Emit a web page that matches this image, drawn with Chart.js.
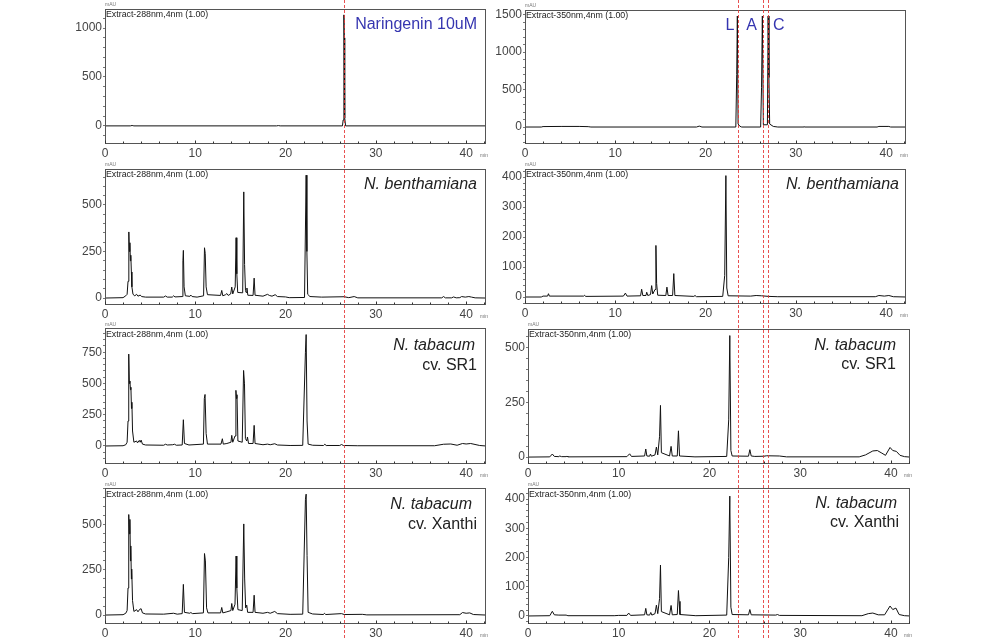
<!DOCTYPE html>
<html><head><meta charset="utf-8">
<script src="https://cdn.jsdelivr.net/npm/chart.js@4.4.1/dist/chart.umd.min.js"></script>
<style>
html,body{margin:0;padding:0;background:#fff;width:1003px;height:640px;overflow:hidden;position:relative}
canvas{position:absolute;display:block}
</style></head><body>
<script>
// ---- data: [retention time (min), absorbance (mAU)] ----
const naringenin288 = [[0,0],[2.8,0],[3.0,4],[3.2,0],[19.0,0],[19.2,3],[19.4,0],[26.3,0],[26.38,60],[26.46,1135],[26.5,900],[26.55,80],[26.65,0],[42.2,0]];
const standards350 = [[0,0],[1.8,0],[2.0,6],[4,8],[6,8],[7.0,5],[7.3,0],[19.0,0],[19.3,12],[19.6,0],[23.35,0],[23.45,700],[23.52,1480],[23.6,40],[23.8,10],[24,0],[26.1,0],[26.2,530],[26.29,1480],[26.4,30],[26.85,30],[26.93,1480],[27.02,660],[27.1,40],[27.5,8],[28,0],[30.8,0],[30.9,4],[31.0,0],[39.0,0],[39.2,8],[40.3,8],[40.5,0],[42.2,0]];
const benth288 = [[0,0],[2.0,2],[2.3,12],[2.45,20],[2.55,90],[2.64,355],[2.7,250],[2.76,297],[2.81,200],[2.86,230],[2.92,140],[2.98,60],[3.1,20],[3.3,12],[3.5,20],[3.65,10],[3.9,16],[4.05,8],[4.5,5],[6.5,5],[6.7,11],[6.9,5],[7.45,5],[7.6,12],[7.75,6],[8.55,8],[8.63,200],[8.68,256],[8.76,60],[8.9,12],[9.4,9],[9.5,16],[9.65,8],[10.2,5],[10.92,12],[11.02,270],[11.1,240],[11.2,60],[11.35,18],[12.8,14],[12.93,41],[13.05,12],[13.35,18],[13.5,24],[13.65,14],[13.92,22],[14.04,59],[14.15,22],[14.42,60],[14.52,324],[14.6,130],[14.7,30],[15.25,28],[15.37,570],[15.46,180],[15.56,40],[15.63,30],[15.72,54],[15.82,15],[16.4,14],[16.52,107],[16.62,15],[17.5,10],[18.0,20],[18.2,14],[18.5,10],[18.85,18],[19.1,8],[20.0,6],[20.4,2],[22.1,3],[22.28,660],[22.36,250],[22.45,20],[22.7,8],[24.0,5],[26.5,7],[27.0,2],[27.6,8],[28.0,1],[37.3,1],[37.5,8],[37.7,1],[38.4,1],[38.6,6],[38.9,1],[39.3,2],[39.5,8],[39.9,5],[40.3,8],[40.6,5],[41,1],[42.2,0]];
const benth350 = [[0,0],[1.8,0],[2.0,3],[2.5,3],[2.6,11],[2.7,3],[6.5,3],[6.6,6],[6.7,2],[10.9,3],[11.12,13],[11.3,3],[12.8,4],[12.92,26],[13.05,5],[13.4,5],[13.48,16],[13.6,5],[13.9,8],[14.03,38],[14.15,10],[14.4,25],[14.5,172],[14.58,45],[14.7,6],[15.6,5],[15.72,33],[15.85,5],[16.35,5],[16.48,78],[16.6,5],[18.7,2],[18.83,5],[19.0,1],[21.9,2],[22.12,72],[22.25,405],[22.35,30],[22.5,4],[25,3],[25.6,5],[26.2,4],[27,2],[28,1],[38.8,1],[39.2,5],[39.8,3],[40.3,5],[40.8,1],[42.2,0]];
const sr1_288 = [[0,0],[2.0,2],[2.3,10],[2.45,30],[2.55,200],[2.63,735],[2.7,500],[2.76,520],[2.82,450],[2.87,470],[2.93,300],[2.98,350],[3.05,120],[3.2,30],[3.5,40],[3.6,25],[3.8,45],[3.9,30],[4.0,47],[4.15,15],[4.5,8],[6.5,6],[6.7,14],[6.9,8],[7.5,10],[7.7,14],[7.9,6],[8.55,8],[8.68,210],[8.8,20],[9.3,8],[10.9,15],[11.0,380],[11.08,412],[11.2,100],[11.35,15],[12.85,15],[13.0,58],[13.1,15],[13.5,20],[13.95,30],[14.04,85],[14.15,30],[14.4,80],[14.5,445],[14.56,380],[14.62,410],[14.72,40],[15.2,30],[15.35,604],[15.45,497],[15.55,60],[15.7,40],[15.78,72],[15.9,20],[16.4,20],[16.52,165],[16.62,20],[17.5,10],[18.0,15],[18.3,10],[18.8,18],[19.1,8],[20.5,4],[21.9,5],[22.2,750],[22.28,891],[22.38,200],[22.5,15],[23,6],[24.2,4],[24.35,14],[24.5,4],[26.0,4],[26.2,12],[26.4,4],[28,2],[36.5,2],[37.5,14],[38.3,16],[39,6],[39.6,20],[40.0,16],[40.5,20],[41.5,4],[42.2,0]];
const sr1_350 = [[0,0],[2.4,1],[2.68,14],[2.9,3],[3.4,2],[3.5,5],[3.7,2],[4.2,2],[4.3,4],[4.4,1],[10.9,2],[11.2,15],[11.4,3],[12.85,5],[12.98,37],[13.1,5],[13.4,4],[13.5,14],[13.6,4],[14.0,10],[14.15,46],[14.3,10],[14.5,95],[14.6,236],[14.7,20],[15.6,5],[15.77,49],[15.9,5],[16.45,5],[16.58,120],[16.7,5],[18.4,1],[21.9,3],[22.12,170],[22.24,555],[22.36,30],[22.5,5],[24.3,4],[24.45,34],[24.6,5],[25,3],[26.0,4],[26.3,6],[27.7,5],[28.5,1],[36.5,1],[37.2,10],[38.0,28],[38.5,30],[39.0,18],[39.4,8],[39.9,44],[40.2,30],[40.6,26],[41.0,8],[41.5,2],[42.1,0]];
const xanthi288 = [[0,0],[2.0,2],[2.3,10],[2.45,25],[2.55,150],[2.63,557],[2.7,450],[2.76,530],[2.82,300],[2.86,383],[2.92,200],[2.96,255],[3.05,80],[3.2,20],[3.5,30],[3.65,18],[3.85,32],[4.0,35],[4.15,12],[4.5,6],[6.5,5],[7.6,10],[8.0,5],[8.55,8],[8.68,170],[8.8,15],[9.4,10],[9.5,14],[9.7,8],[10.9,12],[11.02,341],[11.12,300],[11.25,40],[11.4,12],[12.8,12],[12.93,42],[13.05,12],[13.5,18],[13.95,25],[14.04,64],[14.15,25],[14.4,60],[14.52,327],[14.6,150],[14.72,30],[15.2,25],[15.37,505],[15.47,200],[15.58,40],[15.7,55],[15.8,15],[16.4,15],[16.52,110],[16.62,15],[17.5,10],[18.0,15],[18.3,10],[18.8,20],[19.1,8],[20.5,4],[21.9,5],[22.2,640],[22.28,670],[22.38,330],[22.5,15],[23,6],[24.2,3],[24.3,10],[24.45,3],[26.2,8],[26.5,3],[28.5,4],[29,1],[39.3,2],[39.6,14],[40.0,10],[40.4,12],[40.8,3],[42.2,0]];
const xanthi350 = [[0,0],[2.4,1],[2.68,16],[2.9,4],[3.4,3],[4.2,3],[4.4,1],[9.5,1],[10,2],[10.9,2],[11.1,10],[11.3,2],[12.85,4],[12.98,26],[13.1,4],[13.4,3],[13.53,12],[13.65,3],[14.0,8],[14.15,37],[14.3,8],[14.5,60],[14.6,174],[14.7,15],[15.6,4],[15.77,36],[15.9,4],[16.45,5],[16.58,87],[16.65,50],[16.75,5],[18.5,1],[21.9,3],[22.12,200],[22.24,410],[22.36,30],[22.5,5],[24.3,4],[24.45,22],[24.6,4],[27.3,3],[27.5,5],[27.7,2],[36.8,1],[37.5,8],[38.0,10],[38.6,4],[39.3,4],[39.9,34],[40.2,22],[40.55,27],[40.9,5],[41.5,1],[42.1,0]];

const xTickLabels = [0, 10, 20, 30, 40];
const naringeninRT = [26.5];                 // guide line, left column
const standardRT = [23.56, 26.33, 26.92];    // guide lines L, A, C, right column
const standardNames = ['L', 'A', 'C'];
const standardLabelAt = [22.7, 25.1, 28.1];

// ---- layout ----
const FONT = '"Liberation Sans", Arial, sans-serif';
const cols = [{left:0, width:492}, {left:478, width:525}];
const ROWH = 160;
const panels = [
 {data:naringenin288, wl:288, col:0, row:0, yMin:-175, yMax:1195, yStep:100, yMajor:500, top:9, bottom:143, left:105, right:486, xMax:42.2,
  texts:[{t:'Naringenin 10uM', color:'#3535b0', dy:16, dx:-9}], guides:naringeninRT},
 {data:standards350, wl:350, col:1, row:0, yMin:-213, yMax:1560, yStep:100, yMajor:500, top:10, bottom:143, left:47, right:428, xMax:42.2,
  texts:[], guides:standardRT, letters:true},
 {data:benth288, wl:288, col:0, row:1, yMin:-32, yMax:693, yStep:50, yMajor:250, top:9, bottom:144, left:105, right:486, xMax:42.2,
  texts:[{t:'N. benthamiana', it:true, dy:16, dx:-9}]},
 {data:benth350, wl:350, col:1, row:1, yMin:-20, yMax:427, yStep:20, yMajor:100, top:9, bottom:143, left:47, right:428, xMax:42.2,
  texts:[{t:'N. benthamiana', it:true, dy:16, dx:-7}]},
 {data:sr1_288, wl:288, col:0, row:2, yMin:-136, yMax:942, yStep:50, yMajor:250, top:8, bottom:143, left:105, right:486, xMax:42.2,
  texts:[{t:'N. tabacum', it:true, dy:17, dx:-11}, {t:'cv. SR1', dy:37, dx:-9}]},
 {data:sr1_350, wl:350, col:1, row:2, yMin:-27, yMax:585, yStep:50, yMajor:250, top:9, bottom:143, left:50, right:432, xMax:42.1,
  texts:[{t:'N. tabacum', it:true, dy:17, dx:-14}, {t:'cv. SR1', dy:36, dx:-14}]},
 {data:xanthi288, wl:288, col:0, row:3, yMin:-44, yMax:703, yStep:50, yMajor:250, top:7, bottom:143, left:105, right:486, xMax:42.2,
  texts:[{t:'N. tabacum', it:true, dy:16, dx:-14}, {t:'cv. Xanthi', dy:36, dx:-9}]},
 {data:xanthi350, wl:350, col:1, row:3, yMin:-24, yMax:437, yStep:20, yMajor:100, top:8, bottom:143, left:50, right:432, xMax:42.1,
  texts:[{t:'N. tabacum', it:true, dy:15, dx:-13}, {t:'cv. Xanthi', dy:34, dx:-11}]}
];

// overlay for the dashed guide lines that run through every panel of a column
const overlay = document.createElement('canvas');
overlay.width = 1003; overlay.height = 640;
overlay.style.left = '0px'; overlay.style.top = '0px'; overlay.style.zIndex = 10; overlay.style.pointerEvents = 'none';
const octx = overlay.getContext('2d');

function deco(p, col) {
  return {
    id: 'deco',
    afterDatasetsDraw(chart) {
      const ctx = chart.ctx, a = chart.chartArea;
      ctx.save();
      // frame
      ctx.strokeStyle = '#555'; ctx.lineWidth = 1;
      const L = Math.round(a.left) + 0.5, T = Math.round(a.top) + 0.5, B = Math.round(a.bottom) + 0.5;
      ctx.strokeRect(L, T, Math.round(a.right - a.left) - 1, Math.round(a.bottom - a.top));
      // inward x ticks from the scale's ticks
      ctx.strokeStyle = '#333';
      chart.scales.x.ticks.forEach(tk => {
        const x = Math.round(chart.scales.x.getPixelForValue(tk.value)) + 0.5;
        const len = (tk.value % 10 === 0) ? 3 : 2;
        ctx.beginPath(); ctx.moveTo(x, B); ctx.lineTo(x, B - len); ctx.stroke();
      });
      // small instrument texts
      ctx.fillStyle = '#222';
      ctx.textBaseline = 'middle'; ctx.textAlign = 'left';
      ctx.font = '8.8px ' + FONT;
      ctx.fillText('Extract-' + p.wl + 'nm,4nm (1.00)', a.left + 1, a.top + 6);
      ctx.font = '5px ' + FONT; ctx.fillStyle = '#777';
      ctx.fillText('mAU', a.left, a.top - 4);
      ctx.fillText('min', a.right - 6, a.bottom + 13);
      // panel labels
      ctx.textAlign = 'right';
      p.texts.forEach(s => {
        ctx.font = (s.it ? 'italic ' : '') + '16px ' + FONT;
        ctx.fillStyle = s.color || '#222';
        ctx.fillText(s.t, a.right + s.dx, a.top + s.dy);
      });
      if (p.letters) {
        ctx.textAlign = 'center'; ctx.font = '16px ' + FONT; ctx.fillStyle = '#3535b0';
        standardNames.forEach((n, i) => ctx.fillText(n, chart.scales.x.getPixelForValue(standardLabelAt[i]), a.top + 16));
      }
      ctx.restore();
      // guides
      if (p.guides) {
        octx.save();
        octx.strokeStyle = 'rgba(228,50,50,0.85)'; octx.lineWidth = 1; octx.setLineDash([3, 2]);
        p.guides.forEach(v => {
          const x = Math.round(chart.scales.x.getPixelForValue(v) + col.left) + 0.5;
          octx.beginPath(); octx.moveTo(x, 0); octx.lineTo(x, 640); octx.stroke();
        });
        octx.restore();
      }
    }
  };
}

panels.forEach(p => {
  const col = cols[p.col];
  const cv = document.createElement('canvas');
  cv.width = col.width; cv.height = ROWH;
  cv.style.left = col.left + 'px'; cv.style.top = (p.row * ROWH) + 'px';
  cv.style.width = col.width + 'px'; cv.style.height = ROWH + 'px';
  document.body.appendChild(cv);
  new Chart(cv, {
    type: 'line',
    data: {datasets: [{data: p.data.map(([x, y]) => ({x, y})), borderColor: '#111', borderWidth: 1, pointRadius: 0, tension: 0, fill: false}]},
    options: {
      responsive: false, animation: false, devicePixelRatio: 1,
      layout: {padding: {left: 0, top: p.top, right: col.width - p.right, bottom: 0}},
      plugins: {legend: {display: false}, tooltip: {enabled: false}},
      scales: {
        x: {type: 'linear', min: 0, max: p.xMax,
            afterFit: s => { s.height = ROWH - p.bottom; },
            ticks: {stepSize: 2, autoSkip: false, maxRotation: 0, minRotation: 0, includeBounds: false, padding: 0,
                    color: '#444', font: {family: FONT, size: 12},
                    callback: v => xTickLabels.includes(v) ? String(v) : ''},
            grid: {drawOnChartArea: false, tickLength: 3, color: 'rgba(0,0,0,0)'}, border: {display: false}},
        y: {type: 'linear', min: p.yMin, max: p.yMax,
            afterFit: s => { s.width = p.left; },
            ticks: {stepSize: p.yStep, autoSkip: false, includeBounds: false, padding: 1,
                    color: '#444', font: {family: FONT, size: 12},
                    callback: v => (Math.abs(v % p.yMajor) < 1e-9 ? String(v) : '')},
            grid: {drawOnChartArea: false, tickLength: 2, color: '#777'}, border: {display: false}}
      }
    },
    plugins: [deco(p, col)]
  });
});
document.body.appendChild(overlay);
</script>
</body></html>
